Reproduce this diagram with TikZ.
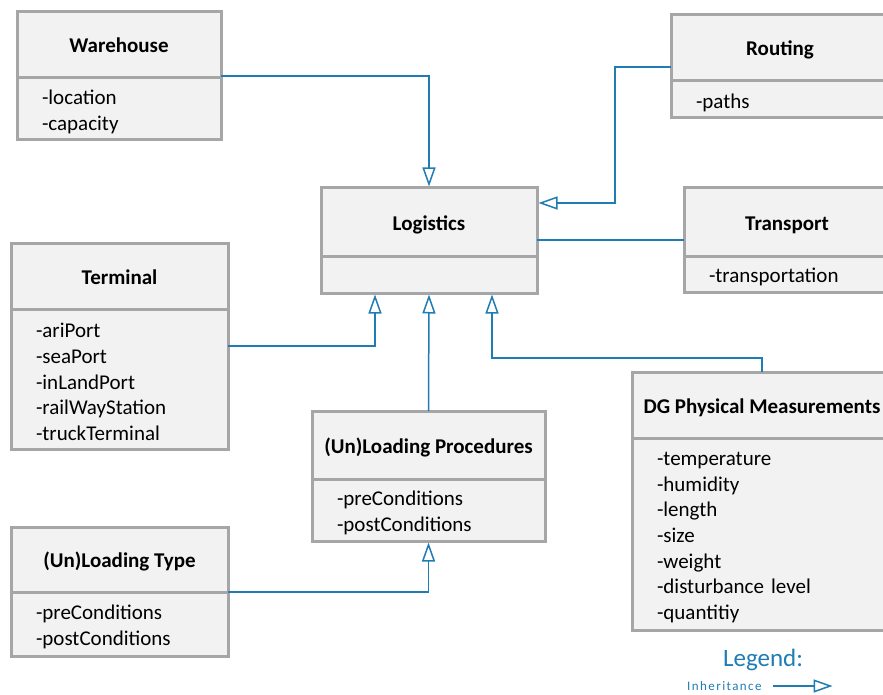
\documentclass[tikz,border=0pt]{standalone}
\usepackage{fontspec}
\setmainfont{Carlito}
\newfontfamily\legfont[LetterSpace=11]{Carlito}
\usetikzlibrary{arrows.meta,calc}
\definecolor{boxfill}{HTML}{F2F2F2}
\definecolor{boxline}{HTML}{A6A6A6}
\definecolor{conn}{RGB}{31,125,180}
\newcommand{\firstln}{\rule{0pt}{20.5pt}}
\begin{document}
\begin{tikzpicture}[x=1pt,y=-1pt,
  hdr/.style={draw=boxline, fill=boxfill, line width=3pt, outer sep=0pt, inner sep=0pt,
    anchor=north west, font=\fontsize{21}{25.6}\selectfont\bfseries, align=center,
    text height=16pt, text depth=0pt},
  body/.style={draw=boxline, fill=boxfill, line width=3pt, outer sep=0pt, inner xsep=25pt,
    inner ysep=0pt, anchor=north west, font=\fontsize{21}{25.7}\selectfont, align=left},
  inh/.style={draw=conn, line width=1.5pt, shorten >=1.5pt,
    -{Triangle[length=19pt,width=13pt,fill=white]}},
  assoc/.style={draw=conn, line width=1.5pt}]
\clip (0,0) rectangle (883,695);
\fill[white] (0,0) rectangle (883,695);
% Warehouse
\node[hdr, minimum width=204pt, minimum height=66pt] (whh) at (17,12) {Warehouse};
\node[body, text width=154pt, minimum height=62pt] (whb) at (whh.south west) {\firstln-location\\-capacity};
% Routing
\node[hdr, minimum width=218pt, minimum height=66pt] (routh) at (671,15) {Routing};
\node[body, text width=168pt, minimum height=37pt] (routb) at (routh.south west) {\firstln-paths};
% Logistics
\node[hdr, minimum width=216pt, minimum height=68pt] (logh) at (321,188) {Logistics};
\node[body, text width=166pt, minimum height=37pt] (logb) at (logh.south west) {};
% Transport
\node[hdr, minimum width=206pt, minimum height=68pt] (transh) at (684,188) {Transport};
\node[body, text width=156pt, minimum height=36pt] (transb) at (transh.south west) {\firstln-transportation};
% Terminal
\node[hdr, minimum width=217pt, minimum height=66pt] (termh) at (11,243) {Terminal};
\node[body, text width=167pt, minimum height=140pt] (termb) at (termh.south west)
  {\firstln-ariPort\\-seaPort\\-inLandPort\\-railWayStation\\-truckTerminal};
% (Un)Loading Procedures
\node[hdr, minimum width=233pt, minimum height=68pt] (proch) at (312,411) {(Un)Loading Procedures};
\node[body, text width=183pt, minimum height=62pt] (procb) at (proch.south west) {\firstln-preConditions\\-postConditions};
% DG Physical Measurements
\node[hdr, minimum width=260pt, minimum height=66pt] (dgh) at (632,372) {DG Physical Measurements};
\node[body, text width=210pt, minimum height=192pt] (dgb) at (dgh.south west)
  {\firstln-temperature\\-humidity\\-length\\-size\\-weight\\-disturbance level\\-quantitiy};
% (Un)Loading Type
\node[hdr, minimum width=217pt, minimum height=65pt] (typeh) at (11,527) {(Un)Loading Type};
\node[body, text width=167pt, minimum height=64pt] (typeb) at (typeh.south west) {\firstln-preConditions\\-postConditions};
% connectors
\draw[inh] ($(whh.south east)+(0,-2)$) -| (logh.north);
\draw[inh] ($(routh.west)+(0,19)$) -- ++(-56,0) |- ($(logh.east)+(0,-19)$);
\draw[assoc] ($(logh.east)+(0,18)$) -- ($(transh.west)+(0,18)$);
\draw[inh] ($(termb.east)+(0,-33)$) -| ($(logb.south)+(-54,0)$);
\draw[inh] (proch.north) -- (logb.south);
\draw[inh] (dgh.north) -- ++(0,-14) -| ($(logb.south)+(63,0)$);
\draw[inh] (typeh.south east) -| (procb.south);
% legend
\node[text=conn, font=\fontsize{25}{30}\selectfont] (leg) at (763,660) {Legend:};
\node[text=conn, font=\legfont\fontsize{13}{15}\selectfont, anchor=west, inner sep=0pt] (inhl) at (687,686) {Inheritance};
\coordinate (lgA) at (773,686);
\coordinate (lgB) at (834,686);
\draw[inh] (lgA) -- (lgB);
\end{tikzpicture}
\end{document}
